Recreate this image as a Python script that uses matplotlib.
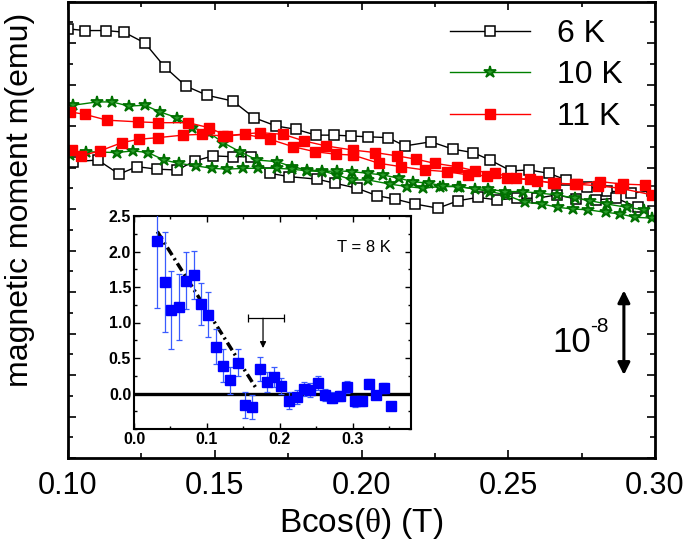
import matplotlib
matplotlib.use('Agg')
import matplotlib.pyplot as plt
from matplotlib.ticker import MultipleLocator, FormatStrFormatter, NullFormatter
from matplotlib.lines import Line2D

plt.rcParams['font.family'] = ['Liberation Sans', 'DejaVu Sans']
plt.rcParams['mathtext.fontset'] = 'custom'
plt.rcParams['mathtext.rm'] = 'Liberation Serif'
plt.rcParams['mathtext.sf'] = 'Liberation Sans'
plt.rcParams['mathtext.it'] = 'Liberation Serif:italic'

# ---------------- main panel data (m in units of 1e-8 emu, arbitrary offset) -------------
b6_up = [0.1000, 0.1058, 0.1129, 0.1191, 0.1262, 0.1330, 0.1402, 0.1474, 0.1562, 0.1634,
         0.1709, 0.1777, 0.1845, 0.1906, 0.1964, 0.2022, 0.2090, 0.2148, 0.2237, 0.2312,
         0.2380, 0.2438, 0.2509, 0.2571, 0.2639, 0.2697, 0.2768, 0.2836, 0.2918, 0.2990]
m6_up = [5.17, 5.15, 5.15, 5.13, 5.00, 4.71, 4.48, 4.37, 4.30, 4.10,
         4.00, 3.96, 3.89, 3.89, 3.88, 3.87, 3.86, 3.76, 3.81, 3.72,
         3.68, 3.59, 3.46, 3.47, 3.43, 3.35, 3.27, 3.22, 3.19, 3.22]
b6_dn = [0.1017, 0.1102, 0.1174, 0.1235, 0.1303, 0.1371, 0.1433, 0.1494, 0.1562, 0.1624,
         0.1688, 0.1753, 0.1848, 0.1910, 0.1985, 0.2053, 0.2114, 0.2182, 0.2261, 0.2329,
         0.2397, 0.2462, 0.2530, 0.2598, 0.2666, 0.2731, 0.2799, 0.2867, 0.2942, 0.2993]
m6_dn = [3.57, 3.59, 3.42, 3.51, 3.48, 3.47, 3.58, 3.64, 3.63, 3.63,
         3.43, 3.39, 3.36, 3.31, 3.25, 3.16, 3.12, 3.06, 3.01, 3.10,
         3.14, 3.11, 3.13, 3.13, 3.17, 3.12, 3.11, 3.13, 3.02, 2.98]

b10_up = [0.1017, 0.1099, 0.1150, 0.1208, 0.1262, 0.1313, 0.1371, 0.1422, 0.1480, 0.1528,
          0.1586, 0.1644, 0.1712, 0.1763, 0.1814, 0.1865, 0.1917, 0.1968, 0.2022, 0.2097,
          0.2155, 0.2210, 0.2267, 0.2336, 0.2438, 0.2492, 0.2557, 0.2615, 0.2669, 0.2721,
          0.2772, 0.2833, 0.2881, 0.2932, 0.2990]
m10_up = [4.25, 4.29, 4.29, 4.24, 4.25, 4.17, 4.10, 3.98, 3.92, 3.80,
          3.69, 3.59, 3.57, 3.51, 3.47, 3.46, 3.41, 3.35, 3.35, 3.30,
          3.27, 3.25, 3.27, 3.27, 3.21, 3.17, 3.08, 3.06, 3.02, 3.00,
          2.99, 2.96, 2.94, 2.90, 2.89]
b10_dn = [0.1007, 0.1061, 0.1167, 0.1221, 0.1273, 0.1327, 0.1378, 0.1436, 0.1491, 0.1542,
          0.1596, 0.1647, 0.1712, 0.1763, 0.1814, 0.1865, 0.1917, 0.1968, 0.2022, 0.2073,
          0.2128, 0.2175, 0.2230, 0.2278, 0.2329, 0.2387, 0.2431, 0.2489, 0.2550, 0.2608,
          0.2666, 0.2727, 0.2779, 0.2836, 0.2905, 0.2963]
m10_dn = [3.65, 3.69, 3.68, 3.70, 3.68, 3.59, 3.55, 3.52, 3.49, 3.48,
          3.49, 3.49, 3.49, 3.48, 3.46, 3.45, 3.46, 3.45, 3.43, 3.41,
          3.37, 3.33, 3.31, 3.28, 3.27, 3.24, 3.24, 3.21, 3.21, 3.19,
          3.17, 3.13, 3.10, 3.06, 3.02, 2.99]

b11_up = [0.1007, 0.1058, 0.1133, 0.1239, 0.1307, 0.1409, 0.1480, 0.1542, 0.1603, 0.1688,
          0.1767, 0.1842, 0.1913, 0.1971, 0.2060, 0.2135, 0.2216, 0.2291, 0.2363, 0.2428,
          0.2496, 0.2574, 0.2652, 0.2727, 0.2806, 0.2881, 0.2990]
m11_up = [4.17, 4.14, 4.07, 4.05, 4.04, 4.04, 3.98, 3.88, 3.90, 3.84,
          3.75, 3.69, 3.66, 3.65, 3.55, 3.51, 3.47, 3.45, 3.41, 3.40,
          3.37, 3.36, 3.31, 3.30, 3.28, 3.25, 3.17]
b11_dn = [0.1014, 0.1044, 0.1109, 0.1184, 0.1242, 0.1307, 0.1392, 0.1457, 0.1528, 0.1654,
          0.1733, 0.1804, 0.1879, 0.1971, 0.2046, 0.2121, 0.2186, 0.2250, 0.2325, 0.2387,
          0.2455, 0.2526, 0.2598, 0.2659, 0.2734, 0.2813, 0.2891, 0.2966]
m11_dn = [3.71, 3.64, 3.70, 3.80, 3.84, 3.86, 3.89, 3.90, 3.88, 3.92,
          3.90, 3.82, 3.76, 3.71, 3.68, 3.64, 3.60, 3.55, 3.51, 3.46,
          3.43, 3.37, 3.34, 3.31, 3.30, 3.33, 3.30, 3.29]

legend_labels = ['6 K', '10 K', '11 K']

# ---------------- inset data (T = 8 K) -------------
bi = [0.031, 0.042, 0.051, 0.062, 0.072, 0.082, 0.092, 0.101, 0.112, 0.122, 0.132,
      0.142, 0.152, 0.162, 0.173, 0.182, 0.192, 0.202, 0.212, 0.223, 0.233, 0.242,
      0.252, 0.262, 0.272, 0.282, 0.292, 0.303, 0.313, 0.323, 0.332, 0.343, 0.353]
mi = [2.15, 1.57, 1.18, 1.22, 1.59, 1.67, 1.26, 1.11, 0.66, 0.39, 0.19,
      0.43, -0.16, -0.19, 0.35, 0.16, 0.23, 0.11, -0.10, -0.05, 0.06, 0.05,
      0.15, -0.02, -0.06, -0.04, 0.09, -0.11, -0.11, 0.14, -0.02, 0.08, -0.18]
ei = [0.95, 0.70, 0.55, 0.46, 0.40, 0.34, 0.30, 0.32, 0.25, 0.23, 0.19,
      0.19, 0.18, 0.17, 0.17, 0.14, 0.14, 0.11, 0.12, 0.10, 0.10, 0.10,
      0.10, 0.08, 0.08, 0.07, 0.08, 0.08, 0.07, 0.06, 0.06, 0.07, 0.0]
fit_b = [0.032, 0.169]
fit_m = [2.28, 0.05]
marker_b, marker_m_top, marker_m_tip = 0.177, 1.06, 0.64
bar_b = [0.157, 0.2055]

# ---------------- figure -------------
fig = plt.figure(figsize=(6.85, 5.44), dpi=100)
ax = fig.add_axes([68/685, (544-458)/544, (655-68)/685, (458-1.5)/544])

style6 = dict(color='black', lw=1.0, marker='s', ms=6.8, mfc='white', mec='black', mew=1.1)
style10 = dict(color='#008000', lw=1.0, marker='*', ms=9, mfc='#2a9a2a', mec='#007000', mew=1.3)
style11 = dict(color='#ff0000', lw=1.0, marker='s', ms=6.8, mfc='#ff0000', mec='#ff0000', mew=1.0)

ax.plot(b6_up, m6_up, **style6)
ax.plot(b6_dn, m6_dn, **style6)
ax.plot(b10_up, m10_up, **style10)
ax.plot(b10_dn, m10_dn, **style10)
ax.plot(b11_up, m11_up, **style11)
ax.plot(b11_dn, m11_dn, **style11)

ax.set_xlim(0.10, 0.30)
ax.set_ylim(0.0, 5.5)
ax.xaxis.set_major_locator(MultipleLocator(0.05))
ax.xaxis.set_minor_locator(MultipleLocator(0.025))
ax.xaxis.set_major_formatter(FormatStrFormatter('%.2f'))
ax.yaxis.set_major_locator(MultipleLocator(0.5))
ax.yaxis.set_minor_locator(MultipleLocator(0.25))
ax.yaxis.set_major_formatter(NullFormatter())
ax.tick_params(which='both', direction='in', top=True, right=True, width=1.2)
ax.tick_params(which='major', length=6, labelsize=22, pad=9)
ax.tick_params(which='minor', length=3.5)
for s in ax.spines.values():
    s.set_linewidth(2.0)

ax.set_xlabel(r'Bcos($\mathrm{\theta}$) (T)', fontsize=24, labelpad=4)
fig.text(20/685, 1 - 200/544, 'magnetic moment m(emu)', rotation=90, fontsize=23,
         ha='center', va='center')

handles = [Line2D([], [], **style6), Line2D([], [], **style10), Line2D([], [], **style11)]
ax.legend(handles, legend_labels, loc='upper left', bbox_to_anchor=((450-68)/587, 0.962),
          frameon=False, fontsize=23, handlelength=2.5, handletextpad=0.85,
          labelspacing=0.36, borderpad=0, borderaxespad=0, numpoints=1)

# scale bar 10^-8
ax.annotate('', xy=(0.2894, 1.0), xytext=(0.2894, 2.02),
            arrowprops=dict(arrowstyle='<|-|>', lw=2.2, color='black',
                            mutation_scale=18, shrinkA=0, shrinkB=0))
ax.text(0.2649, 1.39, '10', fontsize=25, ha='left', va='center')
ax.text(0.2780, 1.58, '-8', fontsize=15, ha='left', va='center')

# ---------------- inset -------------
ins = fig.add_axes([134/685, (544-429)/544, (411-134)/685, (429-216)/544])
ins.set_facecolor('white')
ins.axhline(0, color='black', lw=2.4, zorder=1)
ins.plot(fit_b, fit_m, color='black', lw=2.5, ls=(0, (2.6, 1.1, 0.6, 1.1)), zorder=2)
ins.errorbar(bi, mi, yerr=ei, fmt='s', ms=6.8, color='#0000ff', mec='#0000ff',
             ecolor='#3a5cff', elinewidth=0.9, capsize=2.5, capthick=0.9, zorder=3)
ins.annotate('', xy=(marker_b, marker_m_tip), xytext=(marker_b, marker_m_top),
             arrowprops=dict(arrowstyle='-|>', lw=0.9, color='black',
                             mutation_scale=9, shrinkA=0, shrinkB=0))
ins.errorbar([(bar_b[0] + bar_b[1]) / 2], [marker_m_top], xerr=[(bar_b[1] - bar_b[0]) / 2],
             fmt='none', ecolor='black', elinewidth=0.9, capsize=3, capthick=0.9)
ins.text(0.316, 2.05, 'T = 8 K', fontsize=12, ha='center', va='center')

ins.set_xlim(0.0, 0.38)
ins.set_ylim(-0.5, 2.5)
ins.xaxis.set_major_locator(MultipleLocator(0.1))
ins.xaxis.set_minor_locator(MultipleLocator(0.05))
ins.xaxis.set_major_formatter(FormatStrFormatter('%.1f'))
ins.set_yticks([0.0, 0.5, 1.0, 1.5, 2.0, 2.5])
ins.yaxis.set_minor_locator(MultipleLocator(0.25))
ins.yaxis.set_major_formatter(FormatStrFormatter('%.1f'))
ins.tick_params(which='both', direction='in', top=True, right=True, width=1.0)
ins.tick_params(which='major', length=4, labelsize=11.5, pad=2)
ins.tick_params(which='minor', length=2.5)
for lab in ins.get_xticklabels() + ins.get_yticklabels():
    lab.set_fontweight('bold')
for s in ins.spines.values():
    s.set_linewidth(1.5)

fig.savefig('out.png', dpi=100)
